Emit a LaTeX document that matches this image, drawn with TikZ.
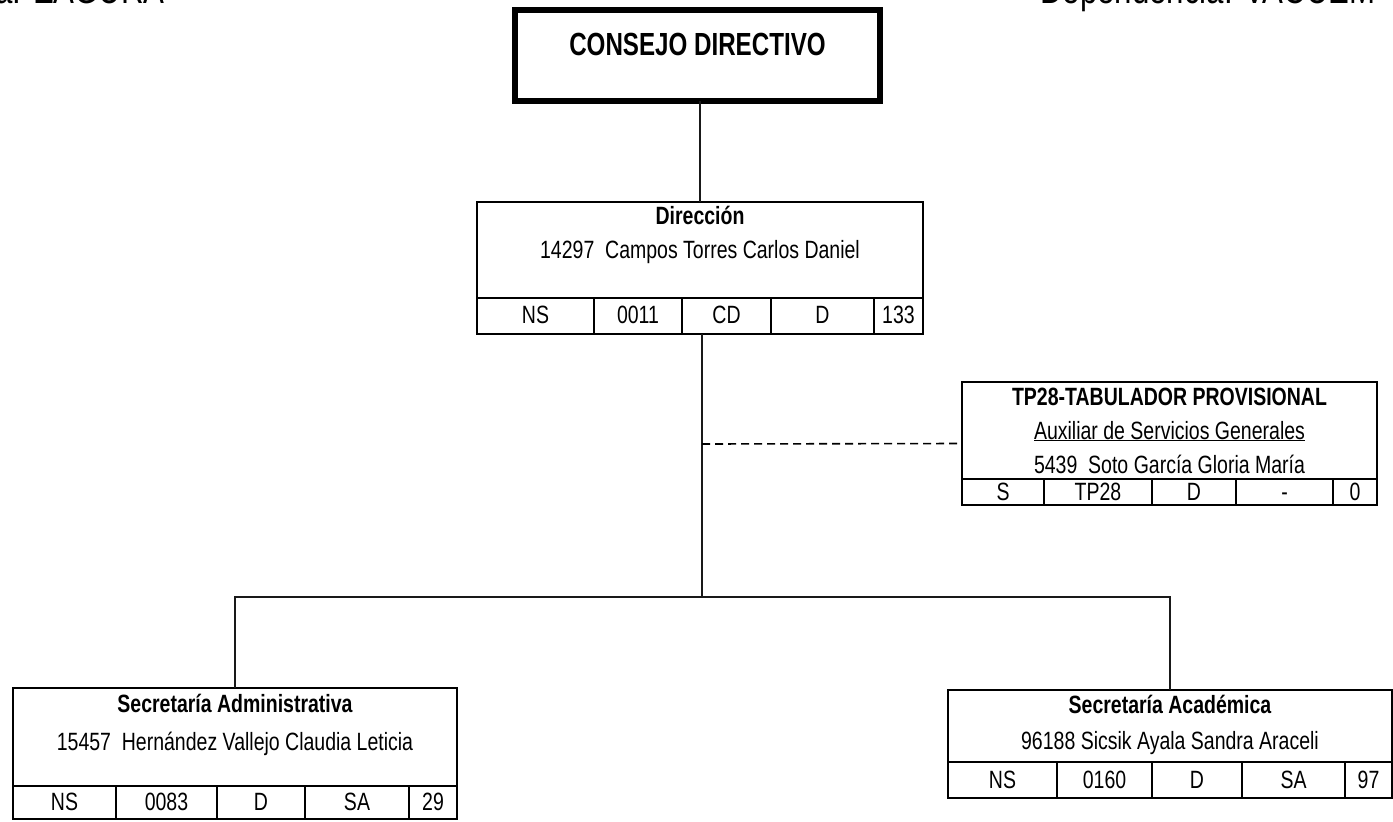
\documentclass[tikz,border=0pt]{standalone}
\usepackage{fontspec}
\setmainfont{Liberation Sans}[FakeStretch=0.78]
\newfontfamily\ttlfont{Liberation Sans}[FakeStretch=0.755]
\begin{document}
\begin{tikzpicture}[x=1pt,y=-1pt,
  box/.style={draw=black, line width=2.3pt, rectangle, inner sep=0pt, outer sep=0pt, anchor=north west},
  cell/.style={line width=2pt},
  conn/.style={draw=black!90, line width=1.3pt},
  txt/.style={inner sep=0pt, anchor=base, font=\fontsize{25}{28}\selectfont},
  btxt/.style={inner sep=0pt, anchor=base, font=\fontsize{25}{28}\selectfont\bfseries},
  ttl/.style={inner sep=0pt, anchor=base, font=\ttlfont\fontsize{32}{36}\selectfont\bfseries},
  hdr/.style={inner sep=0pt, font=\fontsize{40}{44}\selectfont}
]
\useasboundingbox (0,0) rectangle (1393,822);
\clip (0,0) rectangle (1393,822);

% header (cut off at the top)
\node[hdr, anchor=base east] (hl) at (165,3) {a: EAGURA};
\node[hdr, anchor=base west] (hr) at (1040,3) {Dependencia: VACUEM};

% Consejo directivo
\node[box, line width=5.5pt, minimum width=365pt, minimum height=91pt] (cd) at (515,10) {};
\node[ttl] (cdt) at (697.5,55) {CONSEJO DIRECTIVO};

% Direccion
\node[box, minimum width=446pt, minimum height=132pt] (dir) at (477,202) {};
\draw[cell] (477,298) -- (923,298);
\foreach \x in {594,682,771,874} \draw[cell] (\x,298) -- (\x,334);
\node[btxt] (dirt) at (700,224) {Dirección};
\node[txt] (dirn) at (700,258) {14297~~Campos Torres Carlos Daniel};
\node[txt] (dc1) at (535.5,323) {NS};
\node[txt] (dc2) at (638,323) {0011};
\node[txt] (dc3) at (726.5,323) {CD};
\node[txt] (dc4) at (822.5,323) {D};
\node[txt] (dc5) at (898.5,323) {133};

% TP28
\node[box, minimum width=415pt, minimum height=123pt] (tp) at (962,382) {};
\draw[cell] (962,479) -- (1377,479);
\foreach \x in {1044,1152,1236,1333} \draw[cell] (\x,479) -- (\x,505);
\node[btxt] (tpt) at (1169.5,405) {TP28-TABULADOR PROVISIONAL};
\node[txt] (tpa) at (1169.5,439) {\underline{Auxiliar de Servicios Generales}};
\node[txt] (tpn) at (1169.5,473) {5439~~Soto García Gloria María};
\node[txt] (tc1) at (1003,500) {S};
\node[txt] (tc2) at (1098,500) {TP28};
\node[txt] (tc3) at (1194,500) {D};
\node[txt] (tc4) at (1284.5,500) {-};
\node[txt] (tc5) at (1355,500) {0};

% Secretaria Administrativa
\node[box, minimum width=444pt, minimum height=131pt] (sa) at (13,688) {};
\draw[cell] (13,786) -- (457,786);
\foreach \x in {116,217,305,409} \draw[cell] (\x,786) -- (\x,819);
\node[btxt] (sat) at (235,712) {Secretaría Administrativa};
\node[txt] (san) at (235,750) {15457~~Hernández Vallejo Claudia Leticia};
\node[txt] (sc1) at (64.5,810) {NS};
\node[txt] (sc2) at (166.5,810) {0083};
\node[txt] (sc3) at (261,810) {D};
\node[txt] (sc4) at (357,810) {SA};
\node[txt] (sc5) at (433,810) {29};

% Secretaria Academica
\node[box, minimum width=444pt, minimum height=108pt] (sac) at (948,690) {};
\draw[cell] (948,762) -- (1392,762);
\foreach \x in {1057,1152,1242,1345} \draw[cell] (\x,762) -- (\x,798);
\node[btxt] (sact) at (1170,713) {Secretaría Académica};
\node[txt] (sacn) at (1170,749) {96188 Sicsik Ayala Sandra Araceli};
\node[txt] (ac1) at (1002.5,788) {NS};
\node[txt] (ac2) at (1104.5,788) {0160};
\node[txt] (ac3) at (1197,788) {D};
\node[txt] (ac4) at (1293.5,788) {SA};
\node[txt] (ac5) at (1368.5,788) {97};

% connectors
\draw[conn] (dir.north) -- (dir.north |- cd.south);
\coordinate (junc) at (702,597);
\coordinate (dsh) at (702,444);
\draw[conn] (dir.south -| junc) -- (junc);
\draw[conn, draw=black, line width=1.6pt, dash pattern=on 8pt off 5pt] (dsh) -- (tp.west);
\draw[conn] (sa.north) -- (sa.north |- junc) -- (sac.north |- junc) -- (sac.north);
\end{tikzpicture}
\end{document}
